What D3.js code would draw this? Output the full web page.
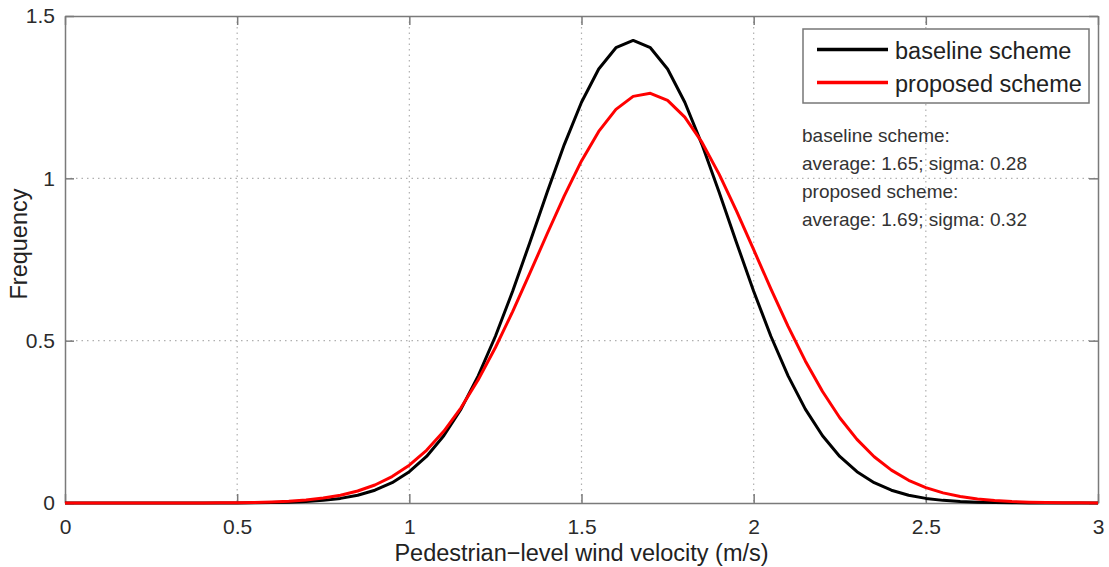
<!DOCTYPE html>
<html>
<head>
<meta charset="utf-8">
<script src="https://cdn.jsdelivr.net/npm/d3@7"></script>
<style>
  body { margin: 0; background: #fff; }
  svg { display: block; font-family: "Liberation Sans", Arial, sans-serif; }
</style>
</head>
<body>
<div id="chart"></div>
<script>
// velocity samples (m/s), 0 to 3 in 0.05 steps
var velocity = [0,0.05,0.1,0.15,0.2,0.25,0.3,0.35,0.4,0.45,0.5,0.55,0.6,0.65,0.7,0.75,0.8,0.85,0.9,0.95,
  1,1.05,1.1,1.15,1.2,1.25,1.3,1.35,1.4,1.45,1.5,1.55,1.6,1.65,1.7,1.75,1.8,1.85,1.9,1.95,
  2,2.05,2.1,2.15,2.2,2.25,2.3,2.35,2.4,2.45,2.5,2.55,2.6,2.65,2.7,2.75,2.8,2.85,2.9,2.95,3];

var baseline = [0,0,0,0,0,0,0,0,0,0,0.0003,0.0006,0.0013,0.0024,0.0045,0.0081,0.0142,0.0240,0.0394,0.0626,
  0.0963,0.1434,0.2070,0.2893,0.3916,0.5136,0.6523,0.8025,0.9564,1.1040,1.2343,1.3368,1.4023,1.4248,1.4023,1.3368,1.2343,1.1040,0.9564,0.8025,
  0.6523,0.5136,0.3916,0.2893,0.2070,0.1434,0.0963,0.0626,0.0394,0.0240,0.0142,0.0081,0.0045,0.0024,0.0013,0.0006,0.0003,0.0001,0,0,0];

var proposed = [0,0,0,0,0,0,0.0001,0.0002,0.0003,0.0006,0.0010,0.0019,0.0033,0.0056,0.0093,0.0151,0.0239,0.0369,0.0555,0.0814,
  0.1164,0.1624,0.2209,0.2932,0.3794,0.4789,0.5895,0.7077,0.8286,0.9462,1.0537,1.1445,1.2123,1.2524,1.2619,1.2400,1.1883,1.1106,1.0123,0.9000,
  0.7802,0.6598,0.5441,0.4376,0.3433,0.2626,0.1959,0.1425,0.1012,0.0700,0.0473,0.0311,0.0200,0.0125,0.0076,0.0045,0.0026,0.0015,0.0008,0.0004,0.0002];

var seriesNames = ["baseline scheme", "proposed scheme"];
var seriesColors = ["#000000", "#ff0000"];
var xTicks = [0, 0.5, 1, 1.5, 2, 2.5, 3];
var yTicks = [0, 0.5, 1, 1.5];
var notes = ["baseline scheme:", "average: 1.65; sigma: 0.28", "proposed scheme:", "average: 1.69; sigma: 0.32"];

var svgWidth = 1109, svgHeight = 567;
var margin = {top: 16, right: 11, bottom: 64, left: 65};
var width = svgWidth - margin.left - margin.right;
var height = svgHeight - margin.top - margin.bottom;

var svg = d3.select("#chart").append("svg")
  .attr("width", svgWidth)
  .attr("height", svgHeight);

var chartGroup = svg.append("g")
  .attr("transform", `translate(${margin.left}, ${margin.top})`);

var xScale = d3.scaleLinear().domain([0, 3]).range([0, width]);
var yScale = d3.scaleLinear().domain([0, 1.5]).range([height, 0]);

// dotted grid
chartGroup.append("g").selectAll("line")
  .data(xTicks.slice(1, -1))
  .enter().append("line")
  .attr("x1", d => xScale(d)).attr("x2", d => xScale(d))
  .attr("y1", 0).attr("y2", height)
  .attr("stroke", "#b0b0b0").attr("stroke-width", 1.2)
  .attr("stroke-dasharray", "1.5,4");

chartGroup.append("g").selectAll("line")
  .data(yTicks.slice(1, -1))
  .enter().append("line")
  .attr("y1", d => yScale(d)).attr("y2", d => yScale(d))
  .attr("x1", 0).attr("x2", width)
  .attr("stroke", "#b0b0b0").attr("stroke-width", 1.2)
  .attr("stroke-dasharray", "1.5,4");

// axes with inward ticks (MATLAB style box)
var tickLen = 9;
var bottomAxis = d3.axisBottom(xScale).tickValues(xTicks).tickSizeInner(-tickLen).tickSizeOuter(0).tickPadding(16).tickFormat(d3.format("~g"));
var leftAxis = d3.axisLeft(yScale).tickValues(yTicks).tickSizeInner(-tickLen).tickSizeOuter(0).tickPadding(10).tickFormat(d3.format("~g"));
var topAxis = d3.axisTop(xScale).tickValues(xTicks).tickSizeInner(-tickLen).tickSizeOuter(0).tickFormat("");
var rightAxis = d3.axisRight(yScale).tickValues(yTicks).tickSizeInner(-tickLen).tickSizeOuter(0).tickFormat("");

var xAxis = chartGroup.append("g").attr("transform", `translate(0, ${height})`).call(bottomAxis);
var yAxis = chartGroup.append("g").call(leftAxis);
chartGroup.append("g").call(topAxis);
chartGroup.append("g").attr("transform", `translate(${width}, 0)`).call(rightAxis);

chartGroup.selectAll(".domain, .tick line").attr("stroke", "#7a7a7a").attr("stroke-width", 1.5);
xAxis.selectAll("text").attr("font-size", 21).attr("fill", "#2b2b2b");
yAxis.selectAll("text").attr("font-size", 21).attr("fill", "#2b2b2b");

// curves
var line = d3.line()
  .x((d, i) => xScale(velocity[i]))
  .y(d => yScale(d));

[baseline, proposed].forEach(function(series, i) {
  chartGroup.append("path")
    .datum(series)
    .attr("fill", "none")
    .attr("stroke", seriesColors[i])
    .attr("stroke-width", 3)
    .attr("stroke-linejoin", "round")
    .attr("d", line);
});

// axis labels
svg.append("text")
  .attr("x", margin.left + width / 2)
  .attr("y", 561)
  .attr("text-anchor", "middle")
  .attr("font-size", 23.5)
  .attr("fill", "#222")
  .text("Pedestrian\u2212level wind velocity (m/s)");

svg.append("text")
  .attr("transform", "translate(27, 244) rotate(-90)")
  .attr("text-anchor", "middle")
  .attr("font-size", 23.5)
  .attr("fill", "#222")
  .text("Frequency");

// legend
var legend = svg.append("g");
legend.append("rect")
  .attr("x", 803).attr("y", 29)
  .attr("width", 286).attr("height", 74)
  .attr("fill", "#fff")
  .attr("stroke", "#777").attr("stroke-width", 1.5);

seriesNames.forEach(function(name, i) {
  var yy = 49.5 + i * 33;
  legend.append("line")
    .attr("x1", 817).attr("x2", 888)
    .attr("y1", yy).attr("y2", yy)
    .attr("stroke", seriesColors[i]).attr("stroke-width", 3.5);
  legend.append("text")
    .attr("x", 895).attr("y", yy + 9.5)
    .attr("font-size", 23.5).attr("fill", "#222")
    .text(name);
});

// statistics note
svg.append("g").selectAll("text")
  .data(notes)
  .enter().append("text")
  .attr("x", 802)
  .attr("y", (d, i) => 141.5 + i * 28.3)
  .attr("font-size", 19)
  .attr("fill", "#333")
  .text(d => d);
</script>
</body>
</html>
